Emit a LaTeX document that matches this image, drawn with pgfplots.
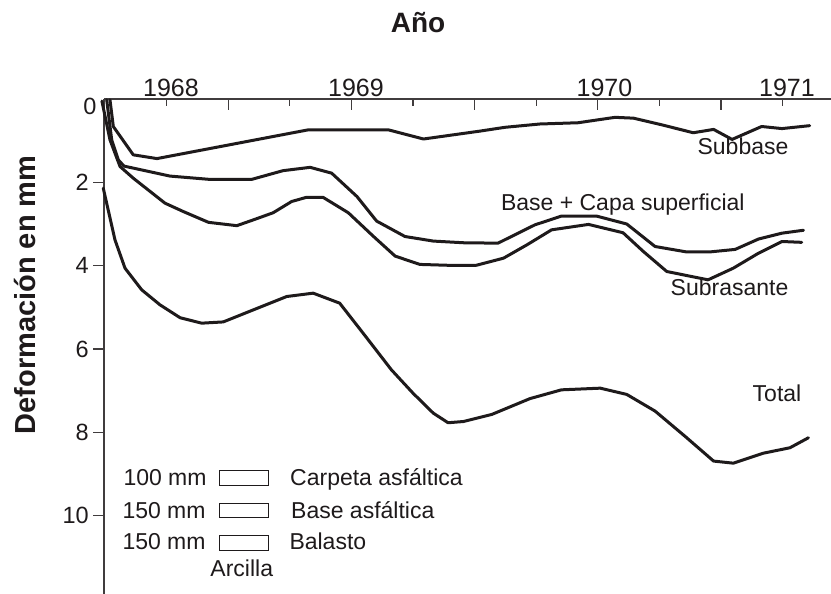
\documentclass[border=0pt]{standalone}
\usepackage{pgfplots}
\pgfplotsset{compat=1.18}
\usepackage{fontspec}
\setmainfont{Liberation Sans}
\definecolor{ink}{HTML}{1E1A1B}
\tikzset{curve/.style={ink, line width=3pt, line join=round, line cap=round, mark=none}}
\begin{document}
\begin{tikzpicture}[x=1pt,y=1pt]
\useasboundingbox (0,0) rectangle (831,594);
\begin{axis}[
  at={(104pt,0pt)}, anchor=south west,
  scale only axis, width=727pt, height=495pt,
  xmin=-0.016, xmax=11.786, ymin=0, ymax=11.88,
  y dir=reverse,
  axis x line=top, axis y line=left,
  axis line style={-, line width=1.2pt, draw=ink!85},
  clip=false,
  xtick={2,4,6,8,10}, minor xtick={1,3,5,7,9,11},
  xticklabel=\empty,
  ytick={2,4,6,8,10},
  tick align=inside,
  major tick length=11pt, minor tick length=7pt,
  every tick/.style={line width=1.2pt, draw=ink!85},
  y tick style={xshift=-11pt},
  yticklabel style={font=\fontsize{23.5}{26}\selectfont, text=ink, inner sep=0pt, xshift=-15pt},
  /pgf/number format/assume math mode=true,
]
% Subbase
\addplot[curve] coordinates {(0.081,0.02) (0.135,0.66) (0.459,1.34) (0.844,1.43) (3.30,0.74) (4.60,0.74) (5.17,0.96) (6.09,0.77) (6.49,0.68) (7.06,0.60) (7.68,0.57) (8.28,0.44) (8.58,0.46) (9.04,0.62) (9.55,0.81) (9.88,0.73) (10.18,0.97) (10.66,0.66) (10.99,0.71) (11.44,0.64)};
% Base + Capa superficial
\addplot[curve] coordinates {(0.028,0.02) (0.109,0.98) (0.216,1.46) (0.308,1.61) (1.055,1.85) (1.705,1.93) (2.38,1.93) (2.89,1.72) (3.33,1.64) (3.68,1.78) (4.09,2.34) (4.41,2.93) (4.87,3.30) (5.33,3.41) (5.82,3.45) (6.38,3.46) (6.98,3.02) (7.41,2.81) (7.98,2.81) (8.47,3.00) (8.93,3.54) (9.44,3.67) (9.82,3.67) (10.23,3.61) (10.61,3.36) (10.99,3.22) (11.34,3.15)};
% Subrasante
\addplot[curve] coordinates {(-0.05,0.05) (0.081,0.98) (0.244,1.62) (0.459,1.90) (0.974,2.50) (1.27,2.70) (1.68,2.96) (2.14,3.04) (2.41,2.90) (2.73,2.73) (3.03,2.46) (3.27,2.36) (3.54,2.36) (3.95,2.73) (4.36,3.30) (4.71,3.77) (5.11,3.97) (5.55,3.99) (6.03,3.99) (6.47,3.82) (6.85,3.50) (7.25,3.14) (7.85,3.01) (8.41,3.21) (8.74,3.66) (9.12,4.14) (9.79,4.34) (10.20,4.06) (10.61,3.70) (10.99,3.42) (11.31,3.44)};
% Total
\addplot[curve] coordinates {(-0.028,2.14) (0.162,3.38) (0.325,4.06) (0.596,4.58) (0.893,4.94) (1.22,5.25) (1.57,5.38) (1.92,5.35) (2.41,5.06) (2.95,4.74) (3.38,4.66) (3.81,4.90) (4.19,5.62) (4.65,6.50) (5.00,7.06) (5.33,7.54) (5.57,7.77) (5.82,7.74) (6.28,7.57) (6.90,7.19) (7.41,6.98) (8.04,6.94) (8.47,7.09) (8.93,7.49) (9.42,8.10) (9.88,8.69) (10.20,8.74) (10.69,8.50) (11.12,8.37) (11.42,8.13)};
\end{axis}
% titles
\node[anchor=base, text=ink, font=\bfseries\fontsize{28}{32}\selectfont] at (418,561.3) {Año};
\node[anchor=base, rotate=90, text=ink, font=\bfseries\fontsize{29}{33}\selectfont] at (35,299) {Deformación en mm};
\node[anchor=base east, inner sep=0pt, text=ink, font=\fontsize{23.5}{26}\selectfont] at (96.7,479) {0};
% years
\begin{scope}[every node/.style={anchor=base, inner sep=0pt, text=ink, font=\fontsize{25}{28}\selectfont}]
\node at (171,497.5) {1968};
\node at (356,497.5) {1969};
\node at (604.5,497.5) {1970};
\node at (787,497.5) {1971};
\end{scope}
% curve labels
\begin{scope}[every node/.style={anchor=base, inner sep=0pt, text=ink, font=\fontsize{23}{26}\selectfont}]
\node at (743,439) {Subbase};
\node at (622.8,383.3) {Base + Capa superficial};
\node at (729.5,298) {Subrasante};
\node at (777,192.3) {Total};
\end{scope}
% layer legend
\begin{scope}[every node/.style={anchor=base west, inner sep=0pt, text=ink, font=\fontsize{23}{26}\selectfont}]
\node at (123.3,108.3) {100 mm};
\node at (290,108) {Carpeta asfáltica};
\node at (122.3,75.7) {150 mm};
\node at (291,75.7) {Base asfáltica};
\node at (122.3,44.7) {150 mm};
\node at (289.3,44.7) {Balasto};
\node[anchor=base] at (241.8,17.3) {Arcilla};
\end{scope}
\draw[ink, line width=0.9pt] (219.3,124) rectangle (268.3,109);
\draw[ink, line width=0.9pt] (219.3,90.7) rectangle (268.3,76.7);
\draw[ink, line width=0.9pt] (219.3,59) rectangle (268.3,44);
\end{tikzpicture}
\end{document}
